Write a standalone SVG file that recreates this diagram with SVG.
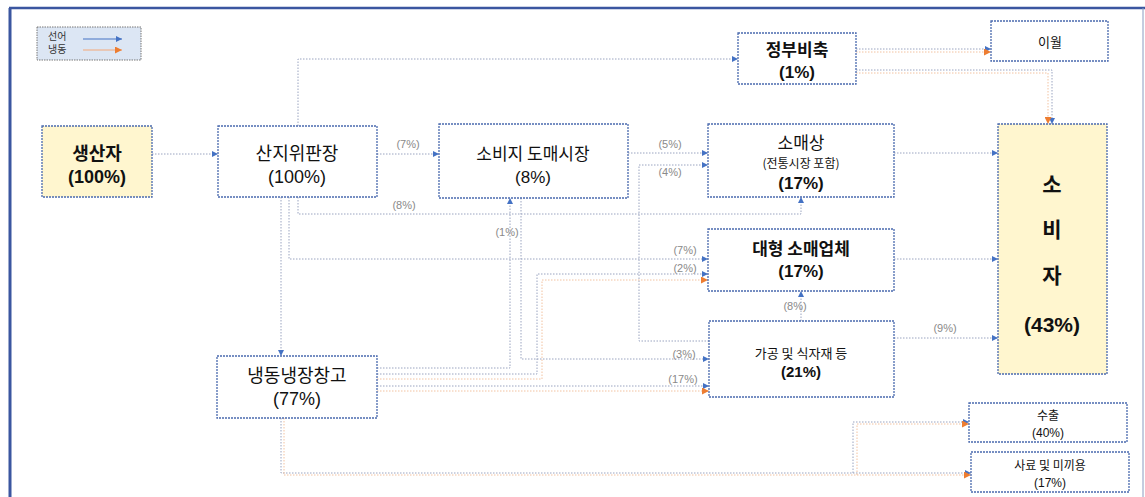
<svg xmlns="http://www.w3.org/2000/svg" width="1145" height="497" viewBox="0 0 1145 497">
<defs>
<marker id="ab" viewBox="0 0 6 6" refX="6" refY="3" markerWidth="6" markerHeight="6" markerUnits="userSpaceOnUse" orient="auto"><path d="M0,0 L6,3 L0,6 z" fill="#4472c4"/></marker>
<marker id="ao" viewBox="0 0 6 6" refX="6" refY="3" markerWidth="7" markerHeight="7" markerUnits="userSpaceOnUse" orient="auto"><path d="M0,0 L6,3 L0,6 z" fill="#ed7d31"/></marker>
</defs>
<style>
.box{fill:#fff;stroke:#4a6aae;stroke-width:1.3;stroke-dasharray:2 1}
.ybox{fill:#fff6cf;stroke:#4a6aae;stroke-width:1.3;stroke-dasharray:2 1}
.t{font-family:"Noto Sans CJK KR","Noto Sans",sans-serif;fill:#111;text-anchor:middle}
.n{font-family:"Liberation Sans",Arial,sans-serif;fill:#111;text-anchor:middle}
.b{font-weight:bold}
.lb{fill:none;stroke:#9aa4c0;stroke-width:1;stroke-dasharray:1.5 1.5}
.lo{fill:none;stroke:#f2c2a0;stroke-width:1;stroke-dasharray:1.5 1.5}
.pl{font-family:"Liberation Sans",sans-serif;font-size:11px;fill:#8a8a8a;text-anchor:middle}
</style>
<rect width="1145" height="497" fill="#fff"/>
<line x1="9" y1="8" x2="1145" y2="8" stroke="#3b56a0" stroke-width="2.5"/>
<line x1="10" y1="8" x2="10" y2="497" stroke="#3b56a0" stroke-width="3"/>
<line x1="1143" y1="8" x2="1143" y2="497" stroke="#8a9ac0" stroke-width="1"/>

<g id="legend">
<rect x="37" y="27" width="104" height="33" fill="#dce6f4" stroke="#777" stroke-width="1" stroke-dasharray="1.5 1"/>
<text x="48" y="40" font-family="Noto Sans CJK KR,sans-serif" font-size="10" fill="#333">선어</text>
<text x="48" y="53" font-family="Noto Sans CJK KR,sans-serif" font-size="10" fill="#333">냉동</text>
<line x1="83" y1="39" x2="122" y2="39" stroke="#4472c4" stroke-width="1" marker-end="url(#ab)"/>
<line x1="83" y1="50" x2="122" y2="50" stroke="#f4a878" stroke-width="1" marker-end="url(#ao)"/>
</g>

<g id="connectors">
<path class="lb" d="M152,154 H218" marker-end="url(#ab)"/>
<path class="lb" d="M377,154 H439" marker-end="url(#ab)"/>
<text class="pl" x="408" y="148">(7%)</text>
<path class="lb" d="M298,126 V59 H738" marker-end="url(#ab)"/>
<path class="lb" d="M856,49 H991" marker-end="url(#ab)"/>
<path class="lo" d="M856,52 H991" marker-end="url(#ao)"/>
<path class="lb" d="M856,70 H1052 V124" marker-end="url(#ab)"/>
<path class="lo" d="M856,73 H1048 V124" marker-end="url(#ao)"/>
<path class="lb" d="M628,153 H708" marker-end="url(#ab)"/>
<text class="pl" x="670" y="148">(5%)</text>
<path class="lb" d="M709,341 H639 V165 H708" marker-end="url(#ab)"/>
<text class="pl" x="670" y="176">(4%)</text>
<path class="lb" d="M298,197 V214 H801 V197" marker-end="url(#ab)"/>
<text class="pl" x="404" y="209">(8%)</text>
<path class="lb" d="M289,197 V259 H708" marker-end="url(#ab)"/>
<text class="pl" x="685" y="254">(7%)</text>
<path class="lb" d="M281,197 V356" marker-end="url(#ab)"/>
<path class="lb" d="M377,368 H510 V198" marker-end="url(#ab)"/>
<text class="pl" x="507" y="236">(1%)</text>
<path class="lb" d="M521,198 V359 H709" marker-end="url(#ab)"/>
<text class="pl" x="684" y="358">(3%)</text>
<path class="lb" d="M377,374 H537 V274 H708" marker-end="url(#ab)"/>
<path class="lo" d="M377,379 H542 V280 H708" marker-end="url(#ao)"/>
<text class="pl" x="685" y="272">(2%)</text>
<path class="lb" d="M377,386 H709" marker-end="url(#ab)"/>
<path class="lo" d="M377,391 H709" marker-end="url(#ao)"/>
<text class="pl" x="683" y="383">(17%)</text>
<path class="lb" d="M894,153 H998" marker-end="url(#ab)"/>
<path class="lb" d="M894,259 H998" marker-end="url(#ab)"/>
<path class="lb" d="M801,321 V291" marker-end="url(#ab)"/>
<text class="pl" x="795" y="310">(8%)</text>
<path class="lb" d="M894,338 H998" marker-end="url(#ab)"/>
<text class="pl" x="945" y="332">(9%)</text>
<path class="lb" d="M281,418 V473 H971" marker-end="url(#ab)"/>
<path class="lo" d="M284,418 V475 H971" marker-end="url(#ao)"/>
<path class="lb" d="M853,473 V422 H969" marker-end="url(#ab)"/>
<path class="lo" d="M857,475 V424 H969" marker-end="url(#ao)"/>
</g>

<g id="n-producer">
<rect class="ybox" x="42" y="126" width="110" height="71"/>
<text class="t b" x="97" y="160" font-size="18">생산자</text>
<text class="n b" x="97" y="183" font-size="18">(100%)</text>
</g>
<g id="n-sanji">
<rect class="box" x="218" y="126" width="159" height="71"/>
<text class="t" x="297" y="160" font-size="18">산지위판장</text>
<text class="n" x="297" y="183" font-size="18">(100%)</text>
</g>
<g id="n-wholesale">
<rect class="box" x="439" y="124" width="189" height="74"/>
<text class="t" x="533" y="160" font-size="17">소비지 도매시장</text>
<text class="n" x="533" y="183" font-size="17">(8%)</text>
</g>
<g id="n-gov">
<rect class="box" x="738" y="33" width="118" height="51"/>
<text class="t b" x="797" y="56" font-size="17">정부비축</text>
<text class="n b" x="797" y="78" font-size="17">(1%)</text>
</g>
<g id="n-carry">
<rect class="box" x="991" y="21" width="117" height="40"/>
<text class="t" x="1050" y="47" font-size="13">이월</text>
</g>
<g id="n-retail">
<rect class="box" x="708" y="124" width="186" height="73"/>
<text class="t" x="801" y="149" font-size="17">소매상</text>
<text class="t" x="801" y="168" font-size="12">(전통시장 포함)</text>
<text class="n b" x="801" y="189" font-size="17">(17%)</text>
</g>
<g id="n-large">
<rect class="box" x="708" y="229" width="186" height="62"/>
<text class="t b" x="801" y="255" font-size="17">대형 소매업체</text>
<text class="n b" x="801" y="277" font-size="17">(17%)</text>
</g>
<g id="n-process">
<rect class="box" x="709" y="321" width="185" height="76"/>
<text class="t" x="801" y="358" font-size="13">가공 및 식자재 등</text>
<text class="n b" x="801" y="377" font-size="15">(21%)</text>
</g>
<g id="n-consumer">
<rect class="ybox" x="998" y="124" width="109" height="250"/>
<text class="t b" x="1052" y="192" font-size="21">소</text>
<text class="t b" x="1052" y="237" font-size="21">비</text>
<text class="t b" x="1052" y="283" font-size="21">자</text>
<text class="n b" x="1052" y="332" font-size="21">(43%)</text>
</g>
<g id="n-cold">
<rect class="box" x="217" y="356" width="160" height="62"/>
<text class="t" x="297" y="382" font-size="18">냉동냉장창고</text>
<text class="n" x="297" y="405" font-size="18">(77%)</text>
</g>
<g id="n-export">
<rect class="box" x="969" y="403" width="158" height="39"/>
<text class="t" x="1048" y="420" font-size="12">수출</text>
<text class="n" x="1048" y="437" font-size="12">(40%)</text>
</g>
<g id="n-feed">
<rect class="box" x="971" y="452" width="158" height="40"/>
<text class="t" x="1050" y="470" font-size="12">사료 및 미끼용</text>
<text class="n" x="1050" y="487" font-size="12">(17%)</text>
</g>
</svg>
